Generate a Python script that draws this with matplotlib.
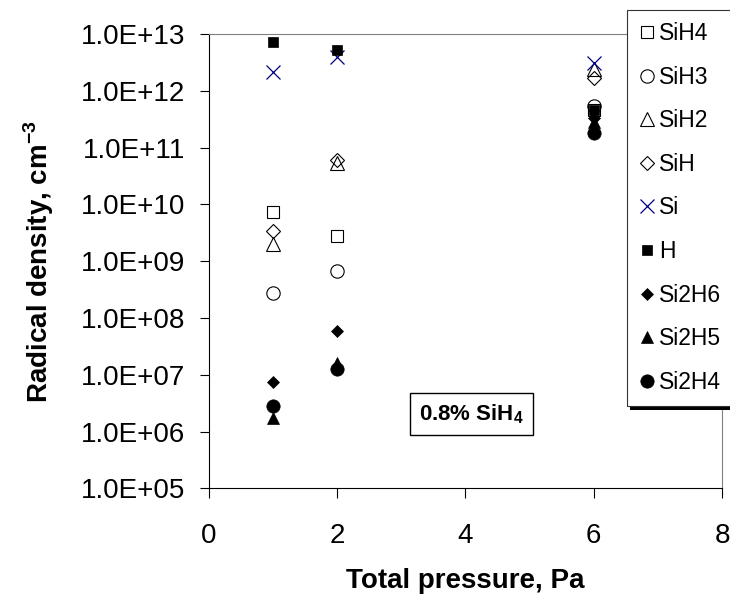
import math
import matplotlib
matplotlib.use('Agg')
import matplotlib.pyplot as plt
from matplotlib.ticker import FuncFormatter, NullLocator
from matplotlib.patches import Rectangle

plt.rcParams['font.family'] = ['Liberation Sans', 'DejaVu Sans']
plt.rcParams['mathtext.fontset'] = 'custom'
plt.rcParams['mathtext.rm'] = 'Liberation Sans'
plt.rcParams['mathtext.bf'] = 'Liberation Sans:bold'

# ---- data ----
pressure = [1, 2, 6]
SiH4 = [7.2e9, 2.8e9, 4.6e11]
SiH3 = [2.7e8, 6.8e8, 5.3e11]
SiH2 = [2.0e9, 5.4e10, 2.4e12]
SiH = [3.4e9, 6.0e10, 1.7e12]
Si = [2.1e12, 3.9e12, 3.1e12]
H = [7.3e12, 5.2e12, 4.6e11]
Si2H6 = [7.5e6, 5.9e7, 3.3e11]
Si2H5 = [1.7e6, 1.6e7, 2.8e11]
Si2H4 = [2.8e6, 1.25e7, 1.8e11]
series_names = ['SiH4', 'SiH3', 'SiH2', 'SiH', 'Si', 'H', 'Si2H6', 'Si2H5', 'Si2H4']
series_values = [SiH4, SiH3, SiH2, SiH, Si, H, Si2H6, Si2H5, Si2H4]
x_ticks = [0, 2, 4, 6, 8]
y_exponents = [5, 6, 7, 8, 9, 10, 11, 12, 13]

styles = [
    dict(marker='s', ms=9.1, mfc='none', mec='black', mew=0.8),
    dict(marker='o', ms=9.6, mfc='none', mec='black', mew=0.8),
    dict(marker='^', ms=10.3, mfc='none', mec='black', mew=0.8),
    dict(marker='D', ms=7.1, mfc='none', mec='black', mew=0.8),
    dict(marker='x', ms=10.5, mfc='none', mec='#000080', mew=0.9),
    dict(marker='s', ms=7.7, mfc='black', mec='black', mew=0.5),
    dict(marker='D', ms=5.9, mfc='black', mec='black', mew=0.5),
    dict(marker='^', ms=8.4, mfc='black', mec='black', mew=0.5),
    dict(marker='o', ms=9.6, mfc='black', mec='black', mew=0.5),
]

W, Hh = 730, 601
fig = plt.figure(figsize=(W / 100, Hh / 100), dpi=100)
x0, x1, ytop, ybot = 208.5, 722, 34, 488.3
ax = fig.add_axes([x0 / W, 1 - ybot / Hh, (x1 - x0) / W, (ybot - ytop) / Hh])

handles = []
for name, vals, st in zip(series_names, series_values, styles):
    h, = ax.plot(pressure, vals, linestyle='none', label=name, clip_on=False, **st)
    handles.append(h)

ax.set_yscale('log')
ax.set_ylim(10.0 ** y_exponents[0], 10.0 ** y_exponents[-1])
ax.set_yticks([10.0 ** e for e in y_exponents])
ax.yaxis.set_minor_locator(NullLocator())
ax.yaxis.set_major_formatter(FuncFormatter(lambda v, p: '1.0E+%02d' % round(math.log10(v))))
ax.set_xlim(x_ticks[0], x_ticks[-1])
ax.set_xticks(x_ticks)

for s in ['left', 'bottom']:
    ax.spines[s].set_color('black')
    ax.spines[s].set_linewidth(0.8)
for s in ['top', 'right']:
    ax.spines[s].set_color('#808080')
    ax.spines[s].set_linewidth(0.8)

ax.tick_params(axis='y', direction='out', length=6.5, width=0.8, pad=10, labelsize=20)
ax.tick_params(axis='x', direction='out', length=7, width=0.8, pad=18, labelsize=20)

ax.set_ylabel(r'Radical density, cm$^{\mathbf{-3}}$', fontsize=20, fontweight='bold', labelpad=18)
ax.set_xlabel('Total pressure, Pa', fontsize=20, fontweight='bold', labelpad=14)

ax.text(0.5126, 0.1636, r'0.8% SiH$_{\mathbf{4}}$', transform=ax.transAxes,
        ha='center', va='center', fontsize=16, fontweight='bold',
        bbox=dict(boxstyle='square,pad=0.4', fc='white', ec='black', lw=1))

# legend frame with shadow (extends beyond the right edge)
shadow = Rectangle((630 / W, 1 - 410 / Hh), 140 / W, 396 / Hh, transform=fig.transFigure,
                   facecolor='black', edgecolor='none', zorder=5)
frame = Rectangle((627 / W, 1 - 406 / Hh), 140 / W, 396 / Hh, transform=fig.transFigure,
                  facecolor='white', edgecolor='#333333', lw=0.8, zorder=6)
fig.add_artist(shadow)
fig.add_artist(frame)
leg = fig.legend(handles, series_names, loc='upper left', bbox_to_anchor=(638 / W, 1 - 22 / Hh),
                 frameon=False, fontsize=16.5, labelspacing=0.9, handlelength=0.8,
                 handletextpad=0.12, borderpad=0, borderaxespad=0, numpoints=1)
leg.set_zorder(7)

fig.savefig('out.png', dpi=100)
